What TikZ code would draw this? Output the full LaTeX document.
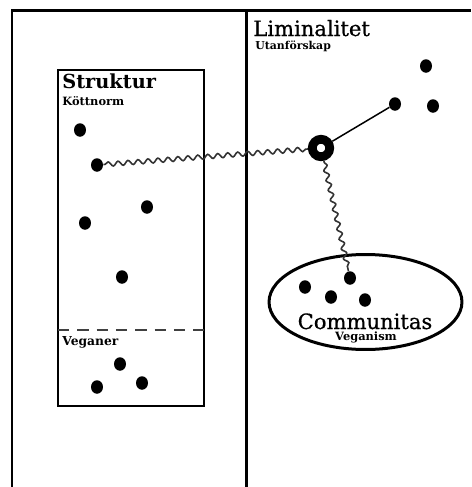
\documentclass[tikz,border=0pt]{standalone}
\usepackage{fontspec}
\setmainfont{DejaVu Serif}
\newfontfamily\titlefont[FakeBold=0.7]{DejaVu Serif}
\usetikzlibrary{shapes.geometric, positioning, decorations.pathmorphing}
\tikzset{dot/.style={ellipse, fill=black, inner sep=0pt, minimum width=2.4mm, minimum height=2.7mm}}
\tikzset{ring/.style={circle, draw, line width=1.75mm, fill=white, inner sep=0pt, minimum size=3.5mm}}

\begin{document}
\begin{tikzpicture}[x=0.02cm, y=-0.02cm, frame/.style={draw, line width=0.6mm},
    wavy/.style={draw, black!80, line width=0.32mm, decorate, decoration={snake, segment length=2mm, amplitude=0.45mm, pre length=1pt, post length=1pt}},
    title/.style={inner sep=0pt, font=\titlefont\fontsize{12}{14}\selectfont},
    sub/.style={inner sep=0pt, font=\bfseries\fontsize{6.5}{8}\selectfont}]

    \useasboundingbox (0,0) rectangle (471,487);

    % ramar
    \draw[frame] (12,487) |- (471,10);
    \draw[frame] (246,10) -- (246,487);
    \draw[line width=0.5mm] (58,70) rectangle (204,406);
    \draw[black!75, line width=0.35mm, dash pattern=on 6.5pt off 4.5pt] (58,330) -- (204,330);

    % struktur
    \node[title, font=\bfseries\fontsize{11}{13}\selectfont, anchor=base west] (strukt) at (62,88) {Struktur};
    \node[sub, anchor=base west] (kott) at (62,105) {Köttnorm};
    \node[sub, font=\bfseries\fontsize{7}{8}\selectfont, anchor=base west] (vegan) at (62,345) {Veganer};

    \node[dot] (s1) at (80,130) {};
    \node[dot] (s2) at (97,165) {};
    \node[dot] (s3) at (147,207) {};
    \node[dot] (s4) at (85,223) {};
    \node[dot] (s5) at (122,277) {};

    \node[dot] (v1) at (120,364) {};
    \node[dot] (v2) at (97,387) {};
    \node[dot] (v3) at (142,383) {};

    % liminalitet
    \node[title, anchor=base west] (limi) at (253,36) {Liminalitet};
    \node[sub, font=\bfseries\fontsize{6.2}{8}\selectfont, anchor=base west] (utan) at (255,49) {Utanförskap};

    \node[dot] (l1) at (395,104) {};
    \node[dot] (l2) at (426,66) {};
    \node[dot] (l3) at (433,106) {};

    % communitas
    \node[ellipse, draw, line width=0.6mm, minimum width=3.86cm, minimum height=1.9cm] (comm) at (365.5,302) {};
    \node[title, anchor=base] (commtxt) at (365,329) {Communitas};
    \node[sub, anchor=base] (vegism) at (366,340) {Veganism};

    \node[dot] (c1) at (305,287) {};
    \node[dot] (c2) at (331,297) {};
    \node[dot] (c3) at (350,278) {};
    \node[dot] (c4) at (365,300) {};

    \node[ring] (lim) at (321,148) {};

    \draw[wavy] (s2) -- (lim);
    \draw[wavy] (lim) -- (c3);
    \draw[line width=0.3mm] (lim) -- (l1);

\end{tikzpicture}
\end{document}
